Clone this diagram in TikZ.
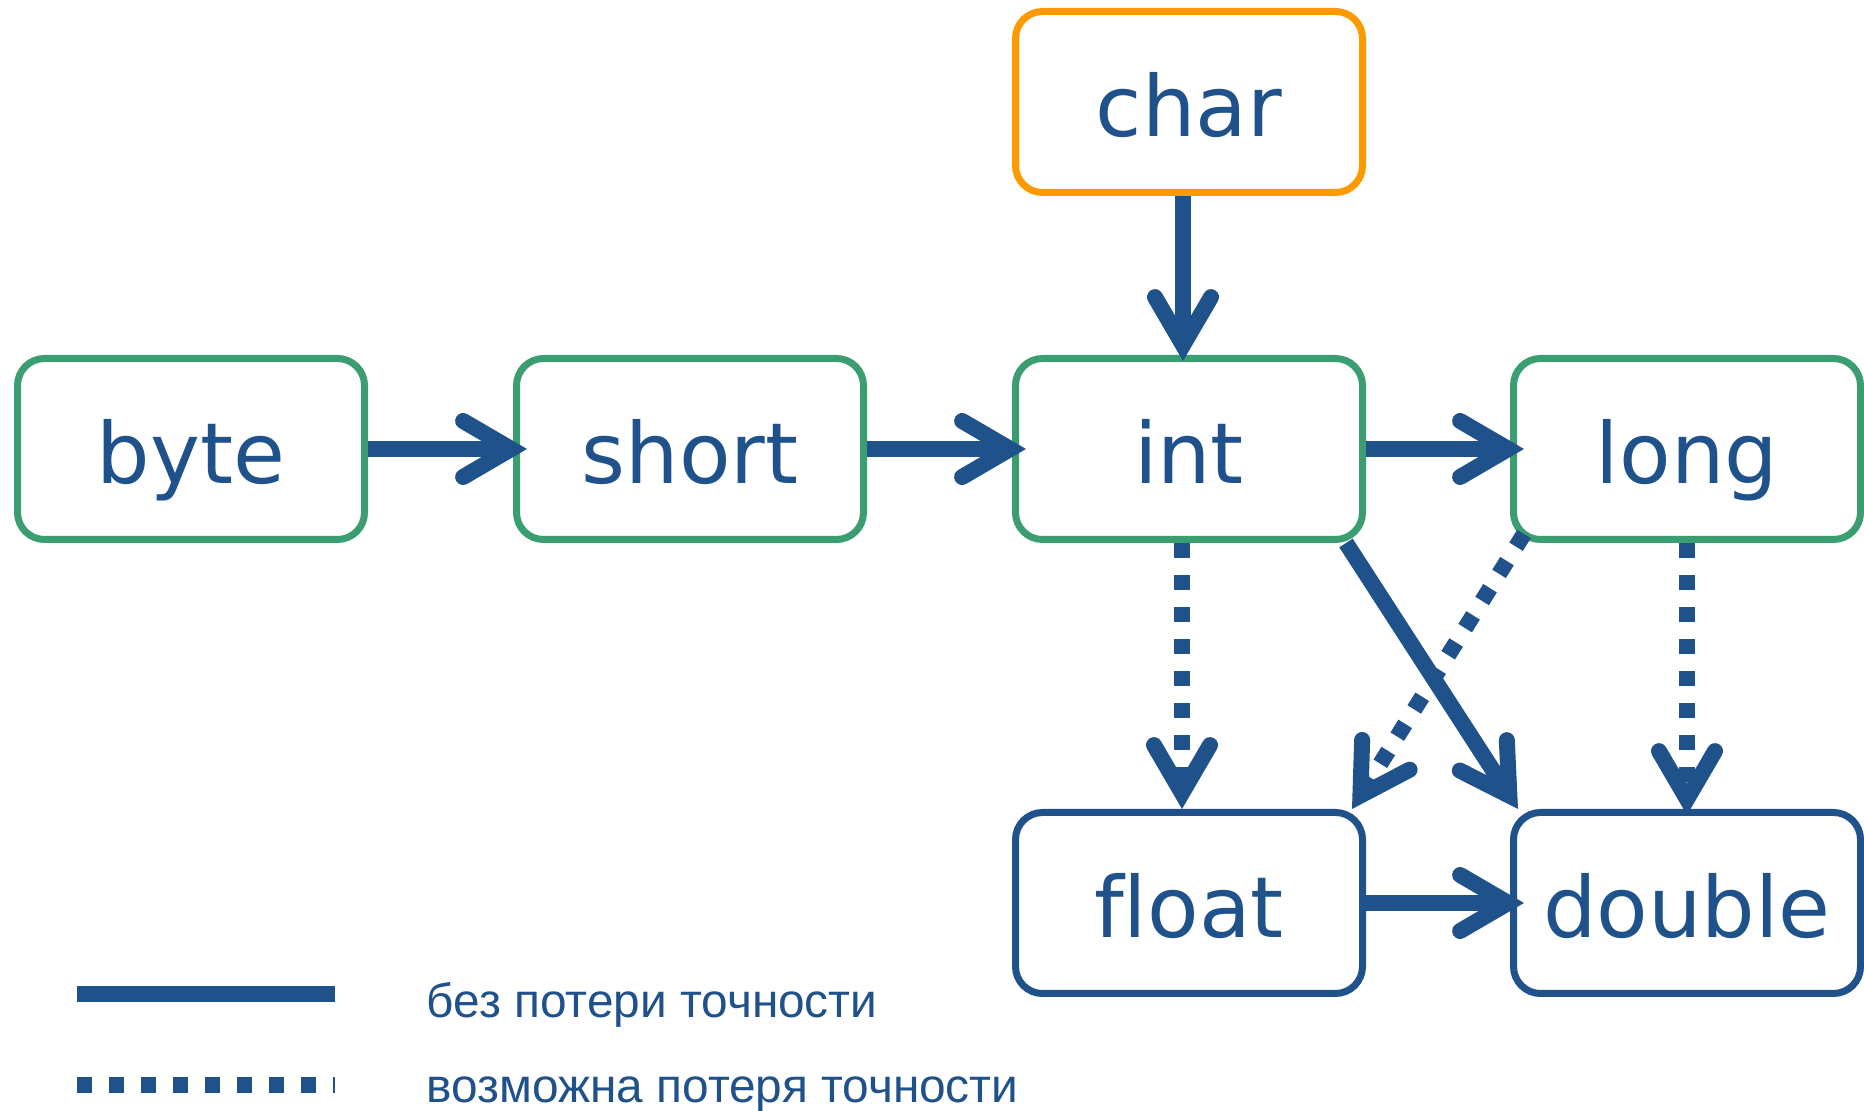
\documentclass[tikz,border=0pt]{standalone}
\usepackage{fontspec}
\setmainfont{DejaVu Sans}[Ligatures=NoCommon]
\newfontfamily\legendfont{Liberation Sans}
\usepackage{tikz}
\usetikzlibrary{arrows.meta}
\usetikzlibrary{calc}
\definecolor{convblue}{HTML}{1F518B}
\definecolor{boxgreen}{HTML}{3A9E70}
\definecolor{charorange}{HTML}{FF9900}
\tikzset{
    typebox/.style={draw=#1, line width=0.7mm, rounded corners=2.7mm, minimum width=3.47cm, minimum height=1.81cm, inner sep=0pt, text height=9mm, text depth=2mm, text=convblue, font=\fontsize{24}{29}\selectfont},
    conv/.style={line width=1.6mm, draw=convblue, -{Straight Barb[length=4.8mm,width=5.6mm,line cap=round,line join=miter]}},
    lossy/.style={conv, dash pattern=on 1.5mm off 1.7mm},
    legend/.style={text=convblue, font=\legendfont\fontsize{13.6}{16}\selectfont, inner sep=0pt, anchor=base west}
}
\begin{document}
\begin{tikzpicture}
\useasboundingbox (0,0) rectangle (18.64,11.11);
% types
\foreach \x/\y/\p/\c in {1.91/6.62/byte/boxgreen, 6.90/6.62/short/boxgreen, 11.89/6.62/int/boxgreen, 16.87/6.62/long/boxgreen, 11.89/10.09/char/charorange, 11.89/2.08/float/convblue, 16.87/2.08/double/convblue}{
    \node[typebox=\c] (\p) at (\x,\y) {\p};
}
% widening without loss
\foreach \a/\b in {byte/short, short/int, int/long, float/double}{
    \draw[conv, shorten >=-1.4mm] (\a) -- (\b);
}
\draw[conv, shorten >=-0.6mm] ([xshift=-0.6mm]char.south) -- ([xshift=-0.6mm]int.north);
\draw[conv] ([xshift=-2mm]int.south east) -- ([xshift=0.8mm]double.north west);
% possible loss
\draw[lossy] ([xshift=-0.7mm]int.south) -- ([xshift=-0.7mm]float.north);
\draw[lossy, shorten >=-0.6mm] (long) -- (double);
\draw[lossy] ([shift={(1.4mm,0.9mm)}]long.south west) -- ([xshift=-1.4mm]float.north east);
% legend
\coordinate (solida) at (0.77,1.17);
\coordinate (solidb) at (3.35,1.17);
\coordinate (dotteda) at (0.77,0.26);
\coordinate (dottedb) at (3.35,0.26);
\draw[conv, -] (solida) -- (solidb);
\draw[lossy, -] (dotteda) -- (dottedb);
\node[legend] (lossless) at (4.26,0.93) {без потери точности};
\node[legend] (lossful) at (4.26,0.08) {возможна потеря точности};
\end{tikzpicture}
\end{document}
